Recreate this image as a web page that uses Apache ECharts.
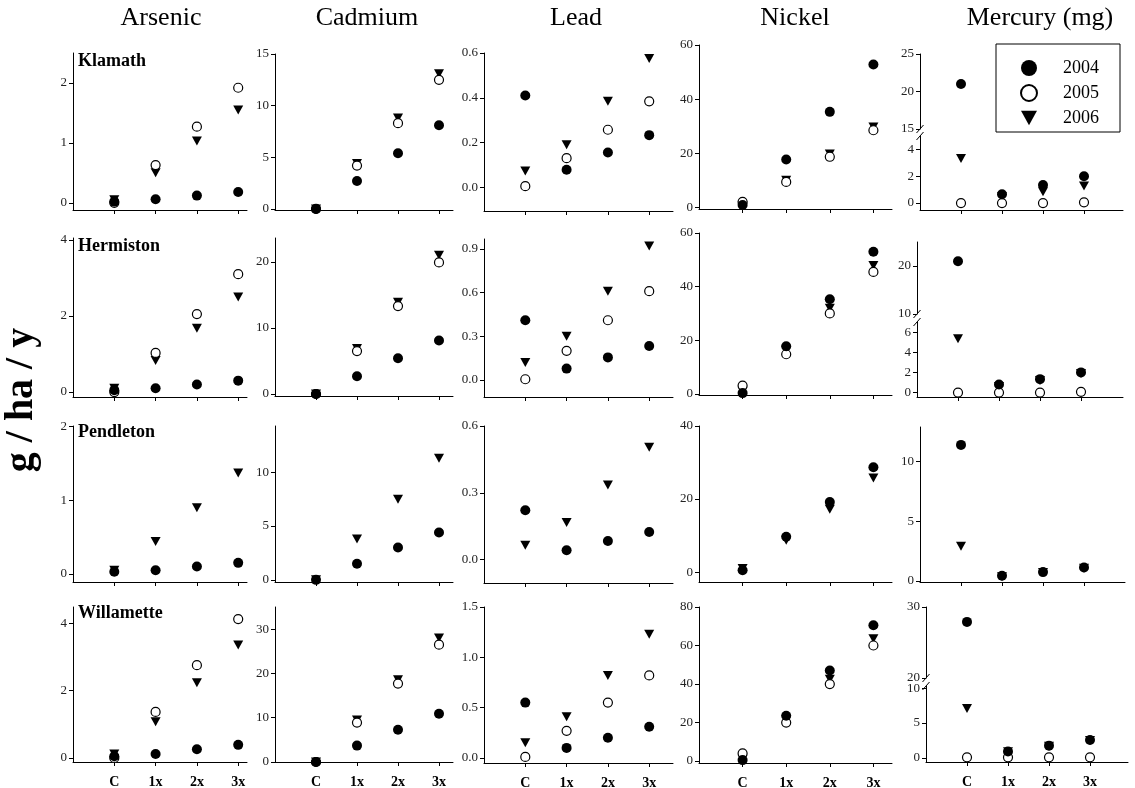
<!DOCTYPE html>
<html>
<head>
<meta charset="utf-8">
<script src="https://cdn.jsdelivr.net/npm/echarts@6/dist/echarts.min.js"></script>
<style>
  html, body { margin: 0; padding: 0; background: #fff; }
  #chart { width: 1135px; height: 788px; }
</style>
</head>
<body>
<div id="chart"></div>
<script>
// ---- data -----------------------------------------------------------
const categories = ['C', '1x', '2x', '3x'];
const years = ['2004', '2005', '2006'];
const metals = ['Arsenic', 'Cadmium', 'Lead', 'Nickel', 'Mercury (mg)'];
const sites = ['Klamath', 'Hermiston', 'Pendleton', 'Willamette'];

// each array: rows 2004, 2005, 2006; columns C, 1x, 2x, 3x (null = not sampled)
const klamathArsenic = [[0.02, 0.06, 0.12, 0.18], [0.0, 0.63, 1.27, 1.92], [0.05, 0.5, 1.03, 1.55]];
const klamathCadmium = [[0.0, 2.7, 5.4, 8.1], [0.0, 4.2, 8.3, 12.5], [0.0, 4.4, 8.8, 13.1]];
const klamathLead = [[0.41, 0.078, 0.155, 0.233], [0.005, 0.13, 0.257, 0.384], [0.073, 0.19, 0.384, 0.575]];
const klamathNickel = [[0.85, 17.7, 35.3, 52.8], [2.0, 9.4, 18.7, 28.5], [0.5, 10.0, 19.7, 29.7]];
const klamathMercury = [[21.0, 0.65, 1.34, 2.0], [0.0, 0.0, 0.0, 0.05], [3.33, 0.47, 0.84, 1.27]];

const hermistonArsenic = [[0.05, 0.1, 0.2, 0.3], [0.0, 1.03, 2.05, 3.1], [0.1, 0.83, 1.68, 2.5]];
const hermistonCadmium = [[0.0, 2.7, 5.4, 8.1], [0.0, 6.5, 13.3, 19.9], [0.0, 6.9, 13.9, 21.0]];
const hermistonLead = [[0.41, 0.078, 0.155, 0.233], [0.005, 0.2, 0.41, 0.61], [0.12, 0.3, 0.61, 0.92]];
const hermistonNickel = [[0.3, 17.8, 35.3, 53.0], [3.1, 14.8, 30.0, 45.5], [1.0, 16.4, 31.9, 47.9]];
const hermistonMercury = [[21.0, 0.8, 1.33, 2.0], [0.0, 0.0, 0.0, 0.07], [5.33, 0.6, 1.2, 1.9]];

const pendletonArsenic = [[0.03, 0.05, 0.1, 0.15], null, [0.05, 0.44, 0.9, 1.37]];
const pendletonCadmium = [[0.0, 1.5, 3.0, 4.4], null, [0.0, 3.8, 7.5, 11.3]];
const pendletonLead = [[0.222, 0.042, 0.084, 0.124], null, [0.064, 0.167, 0.335, 0.505]];
const pendletonNickel = [[0.5, 9.7, 19.2, 28.7], null, [1.0, 8.7, 17.2, 25.8]];
const pendletonMercury = [[11.4, 0.42, 0.73, 1.12], null, [2.9, 0.35, 0.7, 1.05]];

const willametteArsenic = [[0.05, 0.12, 0.26, 0.39], [0.0, 1.37, 2.76, 4.13], [0.12, 1.08, 2.24, 3.36]];
const willametteCadmium = [[0.0, 3.7, 7.3, 10.9], [0.0, 8.9, 17.7, 26.5], [0.0, 9.5, 18.6, 28.0]];
const willametteLead = [[0.55, 0.1, 0.2, 0.31], [0.01, 0.27, 0.55, 0.82], [0.15, 0.41, 0.82, 1.23]];
const willametteNickel = [[0.5, 23.5, 47.0, 70.5], [4.0, 20.0, 40.0, 60.0], [1.0, 21.5, 42.5, 63.5]];
const willametteMercury = [[27.9, 0.93, 1.77, 2.58], [0.1, 0.1, 0.1, 0.1], [7.07, 0.9, 1.7, 2.5]];

// y tick values per panel (Mercury panels with a break list both segments)
const klamathTicks = [[0, 1, 2], [0, 5, 10, 15], [0, 0.2, 0.4, 0.6], [0, 20, 40, 60], [0, 2, 4, 15, 20, 25]];
const hermistonTicks = [[0, 2, 4], [0, 10, 20], [0, 0.3, 0.6, 0.9], [0, 20, 40, 60], [0, 2, 4, 6, 10, 20]];
const pendletonTicks = [[0, 1, 2], [0, 5, 10], [0, 0.3, 0.6], [0, 20, 40], [0, 5, 10]];
const willametteTicks = [[0, 2, 4], [0, 10, 20, 30], [0, 0.5, 1.0, 1.5], [0, 20, 40, 60, 80], [0, 5, 10, 20, 30]];

// y axis extents: [min, max] or, for a broken axis, [lowMin, lowMax, highMin, highMax]
const klamathRange = [[-0.12, 2.5], [-0.1, 15], [-0.106, 0.6], [-0.6, 60], [-0.52, 5.0, 15, 25]];
const hermistonRange = [[-0.13, 4.05], [-0.3, 23.6], [-0.117, 0.968], [-0.4, 60], [-0.44, 7.0, 10, 25]];
const pendletonRange = [[-0.11, 2.01], [-0.2, 14.3], [-0.105, 0.6], [-2.7, 40], [-0.1, 12.9]];
const willametteRange = [[-0.12, 4.49], [0, 35], [-0.05, 1.5], [-1, 80], [-0.57, 10.3, 20, 30]];

// ---- layout ---------------------------------------------------------
// panel boxes: [left, right, top, bottom, (upper segment bottom, lower segment top)]
const boxes = [
  [[73, 247, 53, 210], [275, 453, 54, 210], [484, 673, 53, 211], [699, 892, 45, 209], [920, 1123, 54, 210, 129, 136]],
  [[73, 247, 238, 397], [275, 453, 238, 396], [484, 673, 239, 397], [699, 892, 233, 395], [917, 1123, 242, 397, 314, 322]],
  [[73, 247, 426, 582], [275, 453, 426, 582], [484, 673, 426, 583], [699, 892, 426, 582], [920, 1125, 427, 582]],
  [[73, 247, 607, 762], [275, 453, 607, 762], [484, 673, 607, 763], [699, 892, 607, 763], [926, 1128, 607, 762, 678, 686]]
];
const catSpacing = [41.3, 41, 41.3, 43.6, 41];
const labelDecimals = [0, 0, 1, 0, 0];
const headerX = [161, 367, 576, 795, 1040];

const siteData = [
  [klamathArsenic, klamathCadmium, klamathLead, klamathNickel, klamathMercury],
  [hermistonArsenic, hermistonCadmium, hermistonLead, hermistonNickel, hermistonMercury],
  [pendletonArsenic, pendletonCadmium, pendletonLead, pendletonNickel, pendletonMercury],
  [willametteArsenic, willametteCadmium, willametteLead, willametteNickel, willametteMercury]
];
const siteTicks = [klamathTicks, hermistonTicks, pendletonTicks, willametteTicks];
const siteRanges = [klamathRange, hermistonRange, pendletonRange, willametteRange];

const FONT = "'Liberation Serif', 'Times New Roman', 'DejaVu Serif', serif";
const DOWN_TRIANGLE = 'path://M0,0L10,0L5,9Z';

const yearStyles = [
  { symbol: 'circle', symbolSize: 10, itemStyle: { color: '#000', opacity: 1 }, z: 4 },
  { symbol: 'circle', symbolSize: 9, itemStyle: { color: '#fff', borderColor: '#000', borderWidth: 1.2, opacity: 1 }, z: 3 },
  { symbol: DOWN_TRIANGLE, symbolSize: [10, 9], itemStyle: { color: '#000', opacity: 1 }, z: 2 }
];

const grid = [], xAxis = [], yAxis = [], series = [], graphic = [];
let gridCount = 0;

function addPanel(L, R, T, B, xMax, yMin, yMax, ticks, dec, xVisible, xLabels) {
  grid.push({ left: L, top: T, width: R - L, height: B - T, containLabel: false, outerBoundsMode: 'none' });
  xAxis.push({
    type: 'value', gridIndex: gridCount, min: 0, max: xMax, show: xVisible,
    axisLine: { show: true, onZero: false, lineStyle: { color: '#000', width: 1 } },
    axisTick: { show: true, length: 4, customValues: [1, 2, 3, 4], lineStyle: { color: '#000' } },
    axisLabel: {
      show: xLabels, customValues: [1, 2, 3, 4],
      formatter: v => categories[Math.round(v) - 1] || '',
      fontFamily: FONT, fontWeight: 'bold', fontSize: 14, color: '#000', margin: 13
    },
    splitLine: { show: false }
  });
  yAxis.push({
    type: 'value', gridIndex: gridCount, min: yMin, max: yMax,
    axisLine: { show: true, onZero: false, lineStyle: { color: '#000', width: 1 } },
    axisTick: { show: true, length: 4, customValues: ticks, lineStyle: { color: '#000' } },
    axisLabel: {
      customValues: ticks, formatter: v => Number(v).toFixed(dec),
      fontFamily: FONT, fontSize: 13, color: '#222', margin: 6
    },
    splitLine: { show: false }
  });
  return gridCount++;
}

function addSeries(idx, yearIdx, points) {
  if (!points.length) return;
  series.push(Object.assign({
    type: 'scatter', name: years[yearIdx], xAxisIndex: idx, yAxisIndex: idx,
    data: points, silent: true, animation: false
  }, yearStyles[yearIdx]));
}

function breakMark(x, y) {
  graphic.push({
    type: 'line', silent: true, z: 10,
    shape: { x1: x - 3.5, y1: y + 4, x2: x + 3.5, y2: y - 4 },
    style: { stroke: '#000', lineWidth: 1 }
  });
}

sites.forEach((site, r) => {
  metals.forEach((metal, c) => {
    const box = boxes[r][c];
    const [L, R, T, B] = box;
    const xMax = (R - L) / catSpacing[c];
    const range = siteRanges[r][c];
    const ticks = siteTicks[r][c];
    const rows = siteData[r][c];
    const bottomRow = r === sites.length - 1;
    if (range.length === 4) {
      const [lowMin, lowMax, highMin, highMax] = range;
      const upperBottom = box[4], lowerTop = box[5];
      const lo = addPanel(L, R, lowerTop, B, xMax, lowMin, lowMax,
        ticks.filter(t => t <= lowMax), labelDecimals[c], true, bottomRow);
      const hi = addPanel(L, R, T, upperBottom, xMax, highMin, highMax,
        ticks.filter(t => t >= highMin), labelDecimals[c], false, false);
      rows.forEach((vals, yi) => {
        if (!vals) return;
        const pts = vals.map((v, i) => [i + 1, v]);
        addSeries(lo, yi, pts.filter(p => p[1] <= lowMax));
        addSeries(hi, yi, pts.filter(p => p[1] >= highMin));
      });
      breakMark(L, upperBottom);
      breakMark(L, lowerTop);
    } else {
      const idx = addPanel(L, R, T, B, xMax, range[0], range[1], ticks, labelDecimals[c], true, bottomRow);
      rows.forEach((vals, yi) => {
        if (!vals) return;
        addSeries(idx, yi, vals.map((v, i) => [i + 1, v]));
      });
    }
  });
});

// column headers
metals.forEach((m, c) => {
  graphic.push({
    type: 'text', x: headerX[c], y: 18, silent: true,
    style: { text: m, fontFamily: FONT, fontSize: 26, fill: '#000', align: 'center', verticalAlign: 'middle' }
  });
});

// site names inside the first column
const siteLabelY = [61, 246, 432, 613];
sites.forEach((s, r) => {
  graphic.push({
    type: 'text', x: 78, y: siteLabelY[r], silent: true,
    style: { text: s, fontFamily: FONT, fontSize: 18, fontWeight: 'bold', fill: '#000', align: 'left', verticalAlign: 'middle' }
  });
});

// shared y title
graphic.push({
  type: 'text', x: 22, y: 400, rotation: Math.PI / 2, silent: true,
  style: { text: 'g / ha / y', fontFamily: FONT, fontSize: 40, fontWeight: 'bold', fill: '#000', align: 'center', verticalAlign: 'middle' }
});

const chart = echarts.init(document.getElementById('chart'), null, { renderer: 'canvas' });
chart.setOption({
  animation: false,
  backgroundColor: '#fff',
  grid, xAxis, yAxis, series, graphic,
  legend: {
    data: years.map((y, i) => ({ name: y, icon: i === 2 ? DOWN_TRIANGLE : 'circle' })),
    orient: 'vertical', left: 996, top: 44,
    itemWidth: 16, itemHeight: 16, itemGap: 7,
    padding: [15, 21, 5, 24],
    borderColor: '#000', borderWidth: 1, backgroundColor: '#fff',
    selectedMode: false,
    textStyle: { fontFamily: FONT, fontSize: 18, color: '#000', padding: [0, 0, 0, 21] }
  }
});
</script>
</body>
</html>
